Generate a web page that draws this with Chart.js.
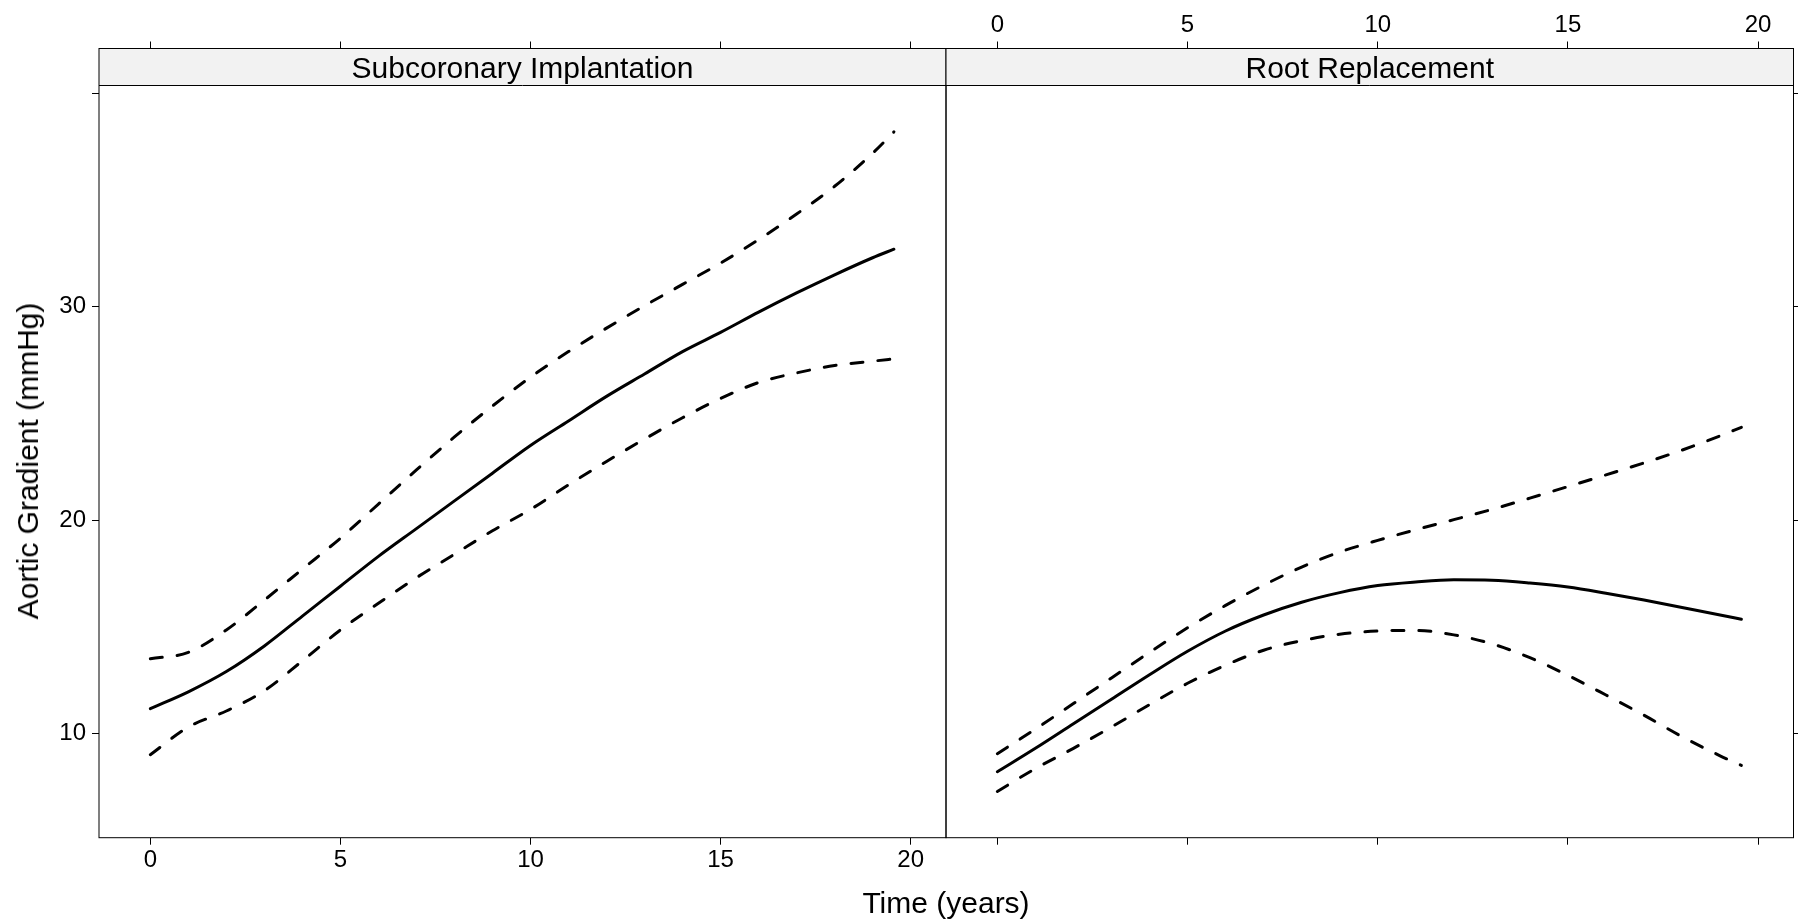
<!DOCTYPE html>
<html>
<head>
<meta charset="utf-8">
<title>Aortic Gradient over time</title>
<script src="https://cdn.jsdelivr.net/npm/chart.js@4/dist/chart.umd.min.js"></script>
<style>
  html, body { margin: 0; padding: 0; background: #fff; }
  #wrap { position: relative; width: 1798px; height: 923px; overflow: hidden; }
  #wrap canvas { position: absolute; left: 0; top: 0; }
  .axis-title {
    position: absolute;
    font-family: 'Liberation Sans', Arial, Helvetica, sans-serif;
    font-size: 30px;
    line-height: 1;
    color: #000;
    white-space: nowrap;
  }
  #yTitle { left: 28px; top: 461px; transform: translate(-50%, -50%) rotate(-90deg); }
  #xTitle { left: 946px; top: 903px; transform: translate(-50%, -50%); }
</style>
</head>
<body>
<div id="wrap">
  <canvas id="leftPanel" width="1798" height="923"></canvas>
  <canvas id="rightPanel" width="1798" height="923"></canvas>
  <div class="axis-title" id="yTitle">Aortic Gradient (mmHg)</div>
  <div class="axis-title" id="xTitle">Time (years)</div>
</div>

<script>
// follow-up times (years)
const years = [0, 1, 2, 3, 4, 5, 6, 7, 8, 9, 10, 11, 12, 13, 14, 15, 16, 17, 18, 19, 19.56];

// Subcoronary Implantation: fitted mean + pointwise band
const subFit = [11.16, 11.95, 12.9, 14.1, 15.5, 16.9, 18.3, 19.6, 20.9, 22.2, 23.5, 24.65, 25.8, 26.85, 27.9, 28.8, 29.75, 30.65, 31.5, 32.3, 32.7];
const subUpper = [13.5, 13.8, 14.85, 16.25, 17.7, 19.15, 20.75, 22.35, 23.9, 25.35, 26.7, 27.9, 29.0, 30.05, 31.05, 32.05, 33.15, 34.35, 35.65, 37.2, 38.2];
const subLower = [9.0, 10.3, 11.05, 12.0, 13.4, 14.85, 16.1, 17.3, 18.4, 19.5, 20.5, 21.65, 22.75, 23.8, 24.8, 25.7, 26.45, 26.9, 27.25, 27.45, 27.56];

// Root Replacement
const rootFit = [8.2, 9.3, 10.45, 11.6, 12.75, 13.85, 14.8, 15.55, 16.15, 16.6, 16.93, 17.1, 17.2, 17.18, 17.05, 16.86, 16.57, 16.25, 15.9, 15.55, 15.35];
const rootUpper = [9.05, 10.2, 11.4, 12.6, 13.8, 14.95, 16.0, 16.95, 17.8, 18.5, 19.05, 19.55, 20.02, 20.5, 21.03, 21.57, 22.12, 22.68, 23.28, 23.95, 24.35];
const rootLower = [7.28, 8.35, 9.3, 10.3, 11.35, 12.35, 13.2, 13.9, 14.35, 14.65, 14.8, 14.83, 14.62, 14.2, 13.55, 12.72, 11.8, 10.85, 9.85, 8.95, 8.5];

// axis ticks
const xTicks = [0, 5, 10, 15, 20];
const xTickLabels = ['0', '5', '10', '15', '20'];
const yTicks = [10, 20, 30, 40];
const yTickLabels = ['10', '20', '30', ''];

const FONT = "'Liberation Sans', Arial, Helvetica, sans-serif";
Chart.defaults.font.family = FONT;
Chart.defaults.color = '#000';

const X_MIN = -1.35, X_MAX = 20.93;
const Y_MIN = 5.11, Y_MAX = 42.11; // top of the range sits under the strip
const STRIP_H = 37;
const DIVIDER = 946;

const toPoints = arr => years.map((t, i) => ({ x: t, y: arr[i] }));

// strip + panel border, drawn over the chart area
const panelFrame = {
  id: 'panelFrame',
  afterDatasetsDraw(chart, args, opts) {
    const { ctx } = chart;
    const { left, right, top, bottom } = chart.chartArea;
    ctx.save();
    ctx.fillStyle = '#f2f2f2';
    ctx.fillRect(left, top, right - left, STRIP_H);
    ctx.strokeStyle = '#000';
    ctx.lineWidth = 1;
    ctx.beginPath();
    ctx.moveTo(left, top + STRIP_H);
    ctx.lineTo(right, top + STRIP_H);
    ctx.stroke();
    ctx.strokeRect(left, top, right - left, bottom - top);
    ctx.fillStyle = '#000';
    ctx.font = `30px ${FONT}`;
    ctx.textAlign = 'center';
    ctx.textBaseline = 'middle';
    ctx.fillText(opts.title, (left + right) / 2, top + STRIP_H / 2 + 3);
    ctx.restore();
  },
};

const makeAxis = ({ position, labels, size, ticks, tickLabels, min, max, padding }) => ({
  type: 'linear',
  position,
  min,
  max,
  grid: { drawOnChartArea: false, drawTicks: true, tickLength: 7, color: '#000', lineWidth: 1 },
  border: { display: false },
  ticks: {
    display: labels,
    autoSkip: false,
    maxRotation: 0,
    padding: padding || 0,
    font: { size: 24 },
    color: '#000',
    callback: (value, index) => tickLabels[index],
  },
  afterBuildTicks: axis => {
    axis.ticks = ticks.map(v => ({ value: v }));
  },
  afterFit: axis => {
    if (position === 'left' || position === 'right') axis.width = size;
    else axis.height = size;
  },
});

const fitStyle = {
  borderColor: '#000',
  borderWidth: 3,
  pointRadius: 0,
  fill: false,
  cubicInterpolationMode: 'monotone',
  borderCapStyle: 'round',
  borderJoinStyle: 'round',
};
const bandStyle = { ...fitStyle, borderDash: [12, 15] };

const makeDatasets = (fit, upper, lower, xID, yID) => [
  { ...fitStyle, label: 'fit', data: toPoints(fit), xAxisID: xID, yAxisID: yID },
  { ...bandStyle, label: 'upper', data: toPoints(upper), xAxisID: xID, yAxisID: yID },
  { ...bandStyle, label: 'lower', data: toPoints(lower), xAxisID: xID, yAxisID: yID },
];

const baseOptions = {
  responsive: false,
  animation: false,
  devicePixelRatio: 1,
  events: [],
};

// left panel: y labels on the left, x labels at the bottom
new Chart(document.getElementById('leftPanel').getContext('2d'), {
  type: 'line',
  data: { datasets: makeDatasets(subFit, subUpper, subLower, 'x', 'y') },
  options: {
    ...baseOptions,
    layout: { padding: { left: 0, right: 1798 - DIVIDER, top: 0, bottom: 0 } },
    plugins: {
      legend: { display: false },
      tooltip: { enabled: false },
      panelFrame: { title: 'Subcoronary Implantation' },
    },
    scales: {
      x: makeAxis({ position: 'bottom', labels: true, size: 85.3, ticks: xTicks, tickLabels: xTickLabels, min: X_MIN, max: X_MAX, padding: 1 }),
      xTop: makeAxis({ position: 'top', labels: false, size: 48.5, ticks: xTicks, tickLabels: xTickLabels, min: X_MIN, max: X_MAX }),
      y: makeAxis({ position: 'left', labels: true, size: 99, ticks: yTicks, tickLabels: yTickLabels, min: Y_MIN, max: Y_MAX, padding: 6 }),
    },
  },
  plugins: [panelFrame],
});

// right panel: x labels on top, bare ticks elsewhere
new Chart(document.getElementById('rightPanel').getContext('2d'), {
  type: 'line',
  data: { datasets: makeDatasets(rootFit, rootUpper, rootLower, 'x', 'y') },
  options: {
    ...baseOptions,
    layout: { padding: { left: DIVIDER, right: 0, top: 0, bottom: 0 } },
    plugins: {
      legend: { display: false },
      tooltip: { enabled: false },
      panelFrame: { title: 'Root Replacement' },
    },
    scales: {
      x: makeAxis({ position: 'top', labels: true, size: 48.5, ticks: xTicks, tickLabels: xTickLabels, min: X_MIN, max: X_MAX, padding: 2 }),
      xBottom: makeAxis({ position: 'bottom', labels: false, size: 85.3, ticks: xTicks, tickLabels: xTickLabels, min: X_MIN, max: X_MAX }),
      y: makeAxis({ position: 'right', labels: false, size: 4.5, ticks: yTicks, tickLabels: yTickLabels, min: Y_MIN, max: Y_MAX }),
    },
  },
  plugins: [panelFrame],
});
</script>
</body>
</html>
